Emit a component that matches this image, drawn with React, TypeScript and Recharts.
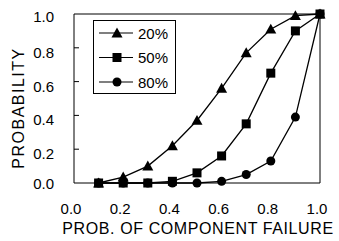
import React from 'react';
import { LineChart, Line, XAxis, YAxis, ReferenceArea } from 'recharts';

const xValues = [0.1, 0.2, 0.3, 0.4, 0.5, 0.6, 0.7, 0.8, 0.9, 1.0];
const series20 = [0.0, 0.035, 0.1, 0.22, 0.37, 0.56, 0.77, 0.91, 0.99, 1.0];
const series50 = [0.0, 0.0, 0.0, 0.01, 0.06, 0.16, 0.35, 0.65, 0.9, 1.0];
const series80 = [0.0, 0.0, 0.0, 0.0, 0.0, 0.01, 0.05, 0.13, 0.39, 1.0];
const seriesNames = ['20%', '50%', '80%'];
const xTicks = [0, 0.2, 0.4, 0.6, 0.8, 1.0];
const yTicks = [0, 0.2, 0.4, 0.6, 0.8, 1.0];
const xTitle = 'PROB. OF COMPONENT FAILURE';
const yTitle = 'PROBABILITY';

const data = xValues.map((x, i) => ({ x, s20: series20[i], s50: series50[i], s80: series80[i] }));

const FONT = 'Liberation Sans, Arial, sans-serif';

const Tri = (props: any) => {
  const { cx, cy } = props;
  if (cx == null || cy == null) return null;
  const s = 5.5;
  return <path d={`M${cx},${cy - s} L${cx + s},${cy + s * 0.8} L${cx - s},${cy + s * 0.8} Z`} fill="#000" />;
};
const Sq = (props: any) => {
  const { cx, cy } = props;
  if (cx == null || cy == null) return null;
  const s = 4.5;
  return <rect x={cx - s} y={cy - s} width={2 * s} height={2 * s} fill="#000" />;
};
const Circ = (props: any) => {
  const { cx, cy } = props;
  if (cx == null || cy == null) return null;
  return <circle cx={cx} cy={cy} r={4.5} fill="#000" />;
};

const XTick = (props: any) => {
  const { x, payload } = props;
  return (
    <text x={x - 3} y={214} textAnchor="middle" fontSize={15} fontFamily={FONT} fill="#000">
      {payload.value.toFixed(1)}
    </text>
  );
};
const YTick = (props: any) => {
  const { y, payload } = props;
  const inner = payload.value > 0 && payload.value < 1;
  const dy = payload.value === 0 ? 5.5 : payload.value === 1 ? 7.5 : 10;
  return (
    <g>
      {inner && <line x1={74} x2={79} y1={y} y2={y} stroke="#000" strokeWidth={1} />}
      <text x={54} y={y + dy} textAnchor="end" fontSize={15} fontFamily={FONT} fill="#000">
        {payload.value.toFixed(1)}
      </text>
    </g>
  );
};

const XTitle = (props: any) => {
  const vb = props.viewBox || {};
  const cx = vb.x + vb.width / 2;
  return (
    <text x={cx + 1} y={234} textAnchor="middle" fontSize={16} letterSpacing={0.6} fontFamily={FONT} fill="#000">
      {xTitle}
    </text>
  );
};
const YTitle = () => (
  <text
    x={24}
    y={108}
    transform="rotate(-90 24 108)"
    textAnchor="middle"
    fontSize={16}
    letterSpacing={1.5}
    fontFamily={FONT}
    fill="#000"
  >
    {yTitle}
  </text>
);

const shapes = [Tri, Sq, Circ];

const LegendBox = () => (
  <svg width={84} height={76} style={{ position: 'absolute', left: 93, top: 20, display: 'block' }}>
    <rect x={0.5} y={0.5} width={82} height={73} fill="#fff" stroke="#000" strokeWidth={1} />
    {seriesNames.map((n, i) => {
      const cy = 13 + i * 24.5;
      const S = shapes[i];
      return (
        <g key={n}>
          <line x1={6} x2={40} y1={cy} y2={cy} stroke="#000" strokeWidth={1.2} />
          <S cx={24} cy={cy} />
          <text x={45} y={cy + 5.5} fontSize={15} fontFamily={FONT} fill="#000">{n}</text>
        </g>
      );
    })}
  </svg>
);

export default function App() {
  return (
    <div style={{ position: 'absolute', left: 0, top: 0, width: 339, height: 241, background: '#fff' }}>
      <LineChart width={339} height={241} data={data} margin={{ top: 14, right: 19, bottom: 0, left: 0 }}>
        <XAxis
          dataKey="x"
          type="number"
          domain={[0, 1]}
          ticks={xTicks}
          interval={0}
          tick={<XTick />}
          tickLine={false}
          axisLine={false}
          height={58}
          label={<XTitle />}
        />
        <YAxis
          type="number"
          domain={[0, 1]}
          ticks={yTicks}
          interval={0}
          tick={<YTick />}
          tickLine={false}
          axisLine={false}
          width={74}
          label={<YTitle />}
        />
        <ReferenceArea x1={0} x2={1} y1={0} y2={1} fill="none" stroke="#000" strokeWidth={1} ifOverflow="visible" />
        <Line dataKey="s20" stroke="#000" strokeWidth={1.3} dot={<Tri />} isAnimationActive={false} />
        <Line dataKey="s50" stroke="#000" strokeWidth={1.3} dot={<Sq />} isAnimationActive={false} />
        <Line dataKey="s80" stroke="#000" strokeWidth={1.3} dot={<Circ />} isAnimationActive={false} />
      </LineChart>
      <LegendBox />
    </div>
  );
}
